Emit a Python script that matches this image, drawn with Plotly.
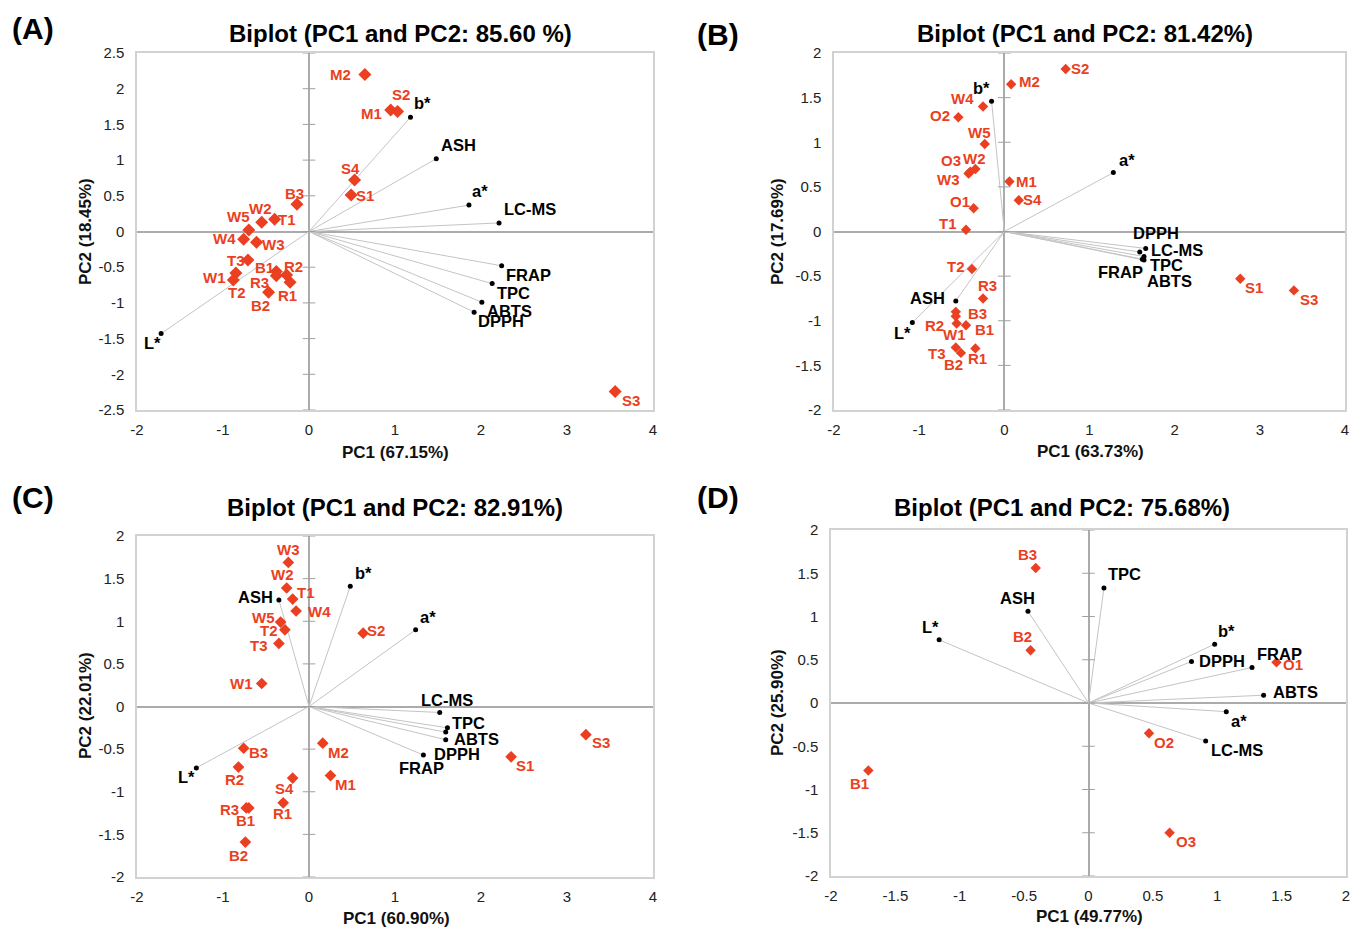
import plotly.graph_objects as go

W, H = 1352, 927
FONT = "Liberation Sans, Arial, Helvetica, sans-serif"
RED = "#EB3F22"

# ---------------- Panel A data ----------------
A_samples = ["M2", "M1", "S2", "S4", "S1", "B3", "T1", "W2", "W5", "W4", "W3", "T3",
             "B1", "R3", "R2", "R1", "W1", "T2", "B2", "S3"]
A_sx = [0.65, 0.95, 1.03, 0.53, 0.49, -0.14, -0.40, -0.55, -0.70, -0.76, -0.61, -0.71,
        -0.38, -0.38, -0.26, -0.22, -0.85, -0.88, -0.47, 3.56]
A_sy = [2.20, 1.70, 1.68, 0.72, 0.51, 0.38, 0.17, 0.13, 0.02, -0.11, -0.15, -0.40,
        -0.56, -0.62, -0.61, -0.71, -0.58, -0.68, -0.85, -2.24]
A_vars = ["b*", "ASH", "a*", "LC-MS", "FRAP", "TPC", "ABTS", "DPPH", "L*"]
A_vx = [1.18, 1.48, 1.86, 2.21, 2.24, 2.13, 2.01, 1.92, -1.72]
A_vy = [1.60, 1.02, 0.37, 0.12, -0.48, -0.73, -0.99, -1.13, -1.43]

# ---------------- Panel B data ----------------
B_samples = ["M2", "S2", "W4", "O2", "W5", "W2", "O3", "W3", "M1", "S4", "O1", "T1",
             "T2", "R3", "B3", "R2", "W1", "B1", "T3", "B2", "R1", "S1", "S3"]
B_sx = [0.08, 0.72, -0.25, -0.54, -0.23, -0.34, -0.40, -0.42, 0.06, 0.17, -0.36, -0.45,
        -0.38, -0.25, -0.57, -0.57, -0.56, -0.45, -0.57, -0.51, -0.34, 2.77, 3.40]
B_sy = [1.65, 1.82, 1.40, 1.28, 0.98, 0.70, 0.67, 0.65, 0.56, 0.35, 0.26, 0.02,
        -0.42, -0.75, -0.90, -0.95, -1.03, -1.05, -1.30, -1.36, -1.31, -0.53, -0.66]
B_vars = ["b*", "a*", "ASH", "L*", "DPPH", "LC-MS", "TPC", "FRAP", "ABTS"]
B_vx = [-0.15, 1.28, -0.57, -1.08, 1.59, 1.66, 1.64, 1.62, 1.64]
B_vy = [1.46, 0.66, -0.78, -1.02, -0.23, -0.19, -0.28, -0.31, -0.32]

# ---------------- Panel C data ----------------
C_samples = ["W3", "W2", "T1", "W4", "W5", "T2", "T3", "S2", "W1", "M2", "B3", "R2",
             "S4", "M1", "R3", "B1", "R1", "B2", "S1", "S3"]
C_sx = [-0.24, -0.26, -0.19, -0.15, -0.33, -0.28, -0.35, 0.63, -0.55, 0.16, -0.76, -0.82,
        -0.19, 0.25, -0.73, -0.70, -0.30, -0.74, 2.35, 3.22]
C_sy = [1.69, 1.39, 1.26, 1.12, 0.99, 0.90, 0.74, 0.86, 0.27, -0.43, -0.49, -0.71,
        -0.84, -0.81, -1.19, -1.19, -1.13, -1.59, -0.59, -0.33]
C_vars = ["b*", "a*", "ASH", "L*", "LC-MS", "TPC", "ABTS", "DPPH", "FRAP"]
C_vx = [0.48, 1.24, -0.35, -1.31, 1.52, 1.61, 1.59, 1.59, 1.33]
C_vy = [1.41, 0.90, 1.25, -0.72, -0.07, -0.25, -0.30, -0.39, -0.57]

# ---------------- Panel D data ----------------
D_samples = ["B3", "B2", "B1", "O1", "O2", "O3"]
D_sx = [-0.41, -0.45, -1.71, 1.46, 0.47, 0.63]
D_sy = [1.56, 0.61, -0.78, 0.47, -0.35, -1.50]
D_vars = ["TPC", "ASH", "L*", "b*", "DPPH", "FRAP", "ABTS", "a*", "LC-MS"]
D_vx = [0.12, -0.47, -1.16, 0.98, 0.80, 1.27, 1.36, 1.07, 0.91]
D_vy = [1.33, 1.06, 0.73, 0.68, 0.48, 0.41, 0.09, -0.10, -0.44]

# ---------------- titles / axes ----------------
titles = ["Biplot (PC1 and PC2: 85.60 %)", "Biplot (PC1 and PC2: 81.42%)",
          "Biplot (PC1 and PC2: 82.91%)", "Biplot (PC1 and PC2: 75.68%)"]
letters = ["(A)", "(B)", "(C)", "(D)"]
xtitles = ["PC1 (67.15%)", "PC1 (63.73%)", "PC1 (60.90%)", "PC1 (49.77%)"]
ytitles = ["PC2 (18.45%)", "PC2 (17.69%)", "PC2 (22.01%)", "PC2 (25.90%)"]
xticks = [[-2, -1, 0, 1, 2, 3, 4], [-2, -1, 0, 1, 2, 3, 4], [-2, -1, 0, 1, 2, 3, 4],
          [-2, -1.5, -1, -0.5, 0, 0.5, 1, 1.5, 2]]
yticks = [[-2.5, -2, -1.5, -1, -0.5, 0, 0.5, 1, 1.5, 2, 2.5],
          [-2, -1.5, -1, -0.5, 0, 0.5, 1, 1.5, 2],
          [-2, -1.5, -1, -0.5, 0, 0.5, 1, 1.5, 2],
          [-2, -1.5, -1, -0.5, 0, 0.5, 1, 1.5, 2]]

# ---------------- layout / style (pixel boxes, label offsets) ----------------
boxes = [(137, 53, 653, 410), (834, 53, 1345, 410), (137, 536, 653, 877), (831, 530, 1346, 876)]
title_pos = [(400, 33), (1085, 33), (395, 508), (1062, 507)]
letter_pos = [(33, 28), (718, 35), (33, 498), (718, 498)]
xtitle_pos = [(395, 452), (1090, 451), (397, 918), (1089, 916)]
ytitle_pos = [(85, 232), (777, 232), (85, 706), (777, 703)]
diamond_size = [10, 8, 9, 8]

A_soff = [(-24, 0), (-19, 3), (3, -17), (-4, -12), (14, 0), (-2, -11), (12, 0), (-1, -14),
          (-10, -14), (-19, -1), (17, 2), (-12, 0), (-12, -4), (-17, 7), (7, -9), (-3, 13),
          (-21, 5), (4, 12), (-8, 13), (16, 9)]
A_voff = [(12, -14), (22, -14), (11, -14), (31, -14), (27, 9), (21, 9), (28, 9), (27, 9), (-9, 9)]
B_soff = [(18, -3), (14, -1), (-21, -8), (-18, -2), (-5, -12), (-1, -11), (-19, -11), (-20, 6),
          (17, 0), (14, -1), (-14, -7), (-18, -6), (-16, -2), (4, -13), (22, 2), (-21, 9),
          (-2, 11), (18, 4), (-19, 6), (-7, 12), (2, 10), (14, 9), (15, 9)]
B_voff = [(-10, -13), (14, -13), (-28, -3), (-10, 10), (16, -19), (31, 2), (22, 9), (-22, 13), (25, 21)]
C_soff = [(0, -13), (-4, -14), (13, -7), (23, 0), (-17, -5), (-16, 1), (-20, 2), (13, -3),
          (-20, 0), (16, 9), (15, 4), (-4, 12), (-8, 10), (15, 9), (-17, 2), (-3, 13),
          (-1, 11), (-7, 13), (14, 9), (15, 8)]
C_voff = [(13, -13), (12, -13), (-23, -3), (-10, 9), (7, -12), (21, -5), (31, 7), (11, 14), (-2, 13)]
D_soff = [(-8, -14), (-8, -14), (-9, 13), (17, 2), (15, 9), (16, 9)]
D_voff = [(21, -14), (-10, -13), (-9, -13), (12, -13), (30, 0), (27, -14), (32, -3), (13, 9), (31, 9)]

panels = [
    (A_samples, A_sx, A_sy, A_vars, A_vx, A_vy, A_soff, A_voff),
    (B_samples, B_sx, B_sy, B_vars, B_vx, B_vy, B_soff, B_voff),
    (C_samples, C_sx, C_sy, C_vars, C_vx, C_vy, C_soff, C_voff),
    (D_samples, D_sx, D_sy, D_vars, D_vx, D_vy, D_soff, D_voff),
]


def fmt(v):
    return f"{v:g}"


fig = go.Figure()
annotations = []
layout_axes = {}

for i, (sn, sx, sy, vn, vx, vy, soff, voff) in enumerate(panels):
    k = "" if i == 0 else str(i + 1)
    xref, yref = "x" + k, "y" + k
    x0, y0, x1, y1 = boxes[i]
    xt, yt = xticks[i], yticks[i]

    common = dict(showgrid=False, zeroline=True, zerolinecolor="#ababab", zerolinewidth=1.5,
                  showline=True, mirror=True, linecolor="#d2d2d2", linewidth=1.5,
                  ticks="", automargin=False, ticklabeloverflow="allow",
                  tickfont=dict(size=15, color="#222", family=FONT), fixedrange=True)
    layout_axes["xaxis" + k] = dict(
        domain=[x0 / W, x1 / W], anchor=yref, range=[xt[0], xt[-1]],
        tickvals=xt, ticktext=[fmt(v) for v in xt], ticklabelstandoff=5, **common)
    layout_axes["yaxis" + k] = dict(
        domain=[1 - y1 / H, 1 - y0 / H], anchor=xref, range=[yt[0], yt[-1]],
        tickvals=yt, ticktext=[fmt(v) for v in yt], ticklabelstandoff=8, **common)

    # loading vectors
    lx, ly = [], []
    for a, b in zip(vx, vy):
        lx += [0, a, None]
        ly += [0, b, None]
    fig.add_trace(go.Scatter(x=lx, y=ly, mode="lines", xaxis=xref, yaxis=yref,
                             line=dict(color="#c4c4c4", width=1), hoverinfo="skip",
                             showlegend=False, cliponaxis=False))
    # tick marks on vertical zero axis
    fig.add_trace(go.Scatter(x=[0] * len(yt), y=yt, mode="markers", xaxis=xref, yaxis=yref,
                             marker=dict(symbol="line-ew", size=9,
                                         line=dict(color="#a0a0a0", width=1)),
                             hoverinfo="skip", showlegend=False, cliponaxis=False))
    # variables
    fig.add_trace(go.Scatter(x=vx, y=vy, mode="markers", xaxis=xref, yaxis=yref,
                             marker=dict(color="black", size=5), text=vn,
                             showlegend=False))
    # samples
    fig.add_trace(go.Scatter(x=sx, y=sy, mode="markers", xaxis=xref, yaxis=yref,
                             marker=dict(color=RED, size=diamond_size[i], symbol="diamond"),
                             text=sn, showlegend=False))

    for name, a, b, (dx, dy) in zip(sn, sx, sy, soff):
        annotations.append(dict(x=a, y=b, xref=xref, yref=yref, text=f"<b>{name}</b>",
                                showarrow=False, xshift=dx, yshift=-dy,
                                font=dict(size=15, color=RED, family=FONT)))
    for name, a, b, (dx, dy) in zip(vn, vx, vy, voff):
        annotations.append(dict(x=a, y=b, xref=xref, yref=yref, text=f"<b>{name}</b>",
                                showarrow=False, xshift=dx, yshift=-dy,
                                font=dict(size=16.5, color="black", family=FONT)))

    tx, ty = title_pos[i]
    annotations.append(dict(x=tx / W, y=1 - ty / H, xref="paper", yref="paper",
                            text=f"<b>{titles[i]}</b>", showarrow=False,
                            xanchor="center", yanchor="middle",
                            font=dict(size=24, color="black", family=FONT)))
    lx_, ly_ = letter_pos[i]
    annotations.append(dict(x=lx_ / W, y=1 - ly_ / H, xref="paper", yref="paper",
                            text=f"<b>{letters[i]}</b>", showarrow=False,
                            xanchor="center", yanchor="middle",
                            font=dict(size=30, color="black", family=FONT)))
    ax_, ay_ = xtitle_pos[i]
    annotations.append(dict(x=ax_ / W, y=1 - ay_ / H, xref="paper", yref="paper",
                            text=f"<b>{xtitles[i]}</b>", showarrow=False,
                            xanchor="center", yanchor="middle",
                            font=dict(size=17, color="#111", family=FONT)))
    bx_, by_ = ytitle_pos[i]
    annotations.append(dict(x=bx_ / W, y=1 - by_ / H, xref="paper", yref="paper",
                            text=f"<b>{ytitles[i]}</b>", showarrow=False, textangle=-90,
                            xanchor="center", yanchor="middle",
                            font=dict(size=17, color="#111", family=FONT)))

fig.update_layout(
    width=W, height=H, autosize=False,
    margin=dict(l=0, r=0, t=0, b=0, pad=0, autoexpand=False),
    paper_bgcolor="white", plot_bgcolor="white",
    font=dict(family=FONT, color="black"),
    showlegend=False,
    annotations=annotations,
    **layout_axes,
)

fig.write_html("out.html", config={"displayModeBar": False},
               post_script="document.body.style.margin='0';document.body.style.overflow='hidden';")
